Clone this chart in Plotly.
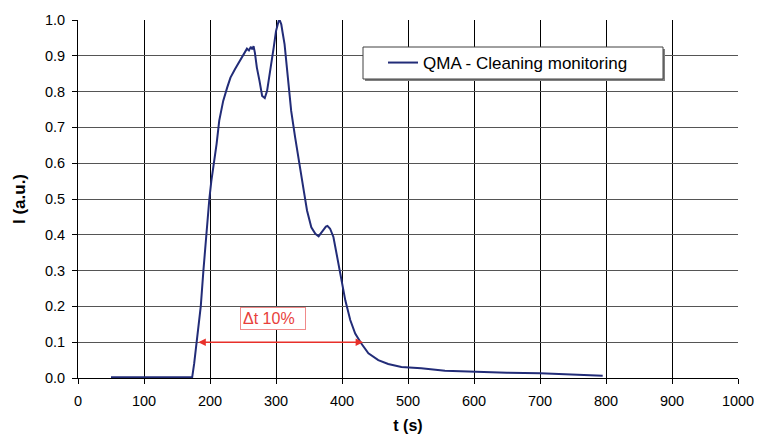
import plotly.graph_objects as go

t_s = [50, 100, 150, 173, 176, 180, 186, 190, 194, 199, 202, 206, 210, 214, 220, 226, 231, 238, 242, 246, 251, 256, 259, 262, 264, 266, 268, 271, 275, 279, 281, 283, 286.5, 289, 291.5, 294, 296.5, 300, 302, 304, 305.5, 308, 310, 313, 318, 323, 329, 336, 342, 347, 353.5, 359.6, 364.6, 369.6, 375.6, 378, 382, 387, 392, 398, 405, 412.5, 420, 429, 440, 455, 470, 490, 520, 556, 600, 650, 700, 750, 795]
intensity = [0.002, 0.002, 0.002, 0.002, 0.04, 0.10, 0.2, 0.3, 0.4, 0.5, 0.55, 0.6, 0.654, 0.719, 0.774, 0.811, 0.839, 0.863, 0.875, 0.891, 0.904, 0.92, 0.915, 0.925, 0.918, 0.927, 0.909, 0.867, 0.83, 0.788, 0.785, 0.782, 0.802, 0.83, 0.858, 0.89, 0.923, 0.969, 0.985, 0.997, 1.0, 0.988, 0.965, 0.932, 0.839, 0.746, 0.672, 0.598, 0.524, 0.468, 0.421, 0.403, 0.396, 0.408, 0.423, 0.425, 0.417, 0.394, 0.347, 0.282, 0.217, 0.162, 0.124, 0.097, 0.069, 0.050, 0.039, 0.031, 0.027, 0.020, 0.017, 0.015, 0.013, 0.010, 0.006]

series_name = "QMA - Cleaning monitoring"
dt_start, dt_end, dt_level = 180, 432, 0.1
dt_label = "Δt 10%"
dt_label_x, dt_label_y = 295, 0.167

x_ticks = list(range(0, 1001, 100))
y_ticks = [round(i * 0.1, 1) for i in range(11)]

L, R, T, B = 78, 21, 20, 56
W, H = 759, 434
PW, PH = W - L - R, H - T - B


def px(xp):
    return (xp - L) / PW


def py(yp):
    return (H - B - yp) / PH


fig = go.Figure()
fig.add_trace(go.Scatter(x=t_s, y=intensity, mode="lines", name=series_name,
                         line=dict(color="#222c78", width=2)))

fig.add_annotation(x=dt_end, y=dt_level, ax=dt_start, ay=dt_level, xref="x", yref="y",
                   axref="x", ayref="y", text="", showarrow=True, arrowhead=2,
                   arrowside="end+start", arrowsize=1, arrowwidth=1.5, arrowcolor="#e8302a")
fig.add_annotation(x=dt_label_x, y=dt_label_y, xref="x", yref="y", text=dt_label, showarrow=False,
                   font=dict(family="Liberation Sans, Arial", size=16, color="#e8403a"),
                   width=60, align="left",
                   bordercolor="#f08a8a", borderwidth=1, borderpad=2, bgcolor="white")

# legend box with shadow
fig.add_shape(type="rect", xref="paper", yref="paper", x0=px(365), x1=px(665),
              y0=py(81), y1=py(49), fillcolor="#808080", line=dict(width=0), layer="above")
fig.add_shape(type="rect", xref="paper", yref="paper", x0=px(363), x1=px(663),
              y0=py(79), y1=py(47), fillcolor="white", line=dict(color="#404040", width=1), layer="above")

fig.update_layout(
    width=W, height=H,
    margin=dict(l=L, r=R, t=T, b=B, autoexpand=False),
    paper_bgcolor="white", plot_bgcolor="white",
    font=dict(family="Liberation Sans, Arial", size=14.5, color="black"),
    showlegend=True,
    legend=dict(x=px(383), y=py(63), xanchor="left", yanchor="middle",
                bgcolor="rgba(0,0,0,0)", borderwidth=0, font=dict(size=17)),
    xaxis=dict(range=[0, 1000], tickvals=x_ticks, ticks="outside", ticklen=5, tickcolor="black",
               ticklabelstandoff=5, automargin=False,
               showgrid=True, gridcolor="black", gridwidth=1, showline=True, linecolor="black",
               zeroline=False, title=dict(text="<b>t (s)</b>", font=dict(size=16), standoff=13)),
    yaxis=dict(range=[0, 1.0], tickvals=y_ticks, tickformat=".1f", ticks="outside", ticklen=5,
               ticklabelstandoff=4, automargin=False,
               tickcolor="black", showgrid=True, gridcolor="#555555", gridwidth=1, showline=True,
               linecolor="black", zeroline=False,
               title=dict(text="<b>I (a.u.)</b>", font=dict(size=17), standoff=14)),
)
fig.write_html("out.html")
